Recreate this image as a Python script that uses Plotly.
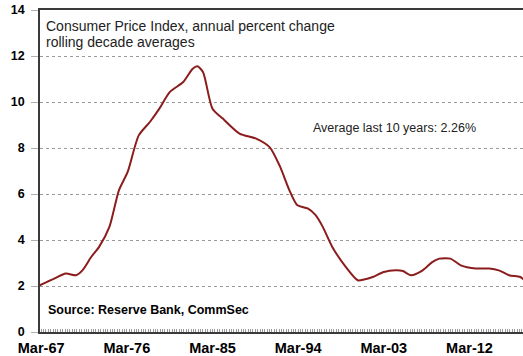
import plotly.graph_objects as go

# Rolling ten-year average of annual CPI change (%), read at irregular dates
dates = [
    "1967-01", "1968-08", "1969-10", "1970-11", "1971-07", "1972-06", "1973-04",
    "1974-05", "1975-05", "1976-04", "1977-06", "1978-08", "1979-08", "1980-09",
    "1982-02", "1983-02", "1983-08", "1984-03", "1985-03", "1986-04", "1988-01",
    "1989-10", "1991-03", "1992-04", "1993-04", "1994-02", "1995-03", "1996-01",
    "1996-10", "1997-10", "1999-03", "2000-06", "2001-02", "2002-01", "2003-03",
    "2004-06", "2005-03", "2006-01", "2007-04", "2008-04", "2009-01", "2010-03",
    "2011-04", "2012-11", "2014-04", "2015-04", "2016-05", "2017-07", "2017-12",
]
cpi_decade_avg = [
    2.03, 2.33, 2.54, 2.47, 2.68, 3.26, 3.70,
    4.57, 6.16, 6.96, 8.55, 9.13, 9.71, 10.43,
    10.87, 11.45, 11.55, 11.30, 9.71, 9.28, 8.63,
    8.41, 8.04, 7.20, 6.16, 5.51, 5.37, 5.08,
    4.57, 3.70, 2.83, 2.25, 2.28, 2.39, 2.61,
    2.68, 2.65, 2.47, 2.68, 3.04, 3.19, 3.19,
    2.90, 2.76, 2.76, 2.68, 2.47, 2.39, 2.26,
]

x_tick_dates = ["1967-03-01", "1976-03-01", "1985-03-01", "1994-03-01", "2003-03-01", "2012-03-01"]
x_tick_labels = ["Mar-67", "Mar-76", "Mar-85", "Mar-94", "Mar-03", "Mar-12"]
y_ticks = [0, 2, 4, 6, 8, 10, 12, 14]

FONT = "Liberation Sans, Arial, sans-serif"

fig = go.Figure()
fig.add_trace(go.Scatter(
    x=dates, y=cpi_decade_avg, mode="lines",
    line=dict(color="#8b1d1d", width=2, shape="spline", smoothing=0.7),
    hoverinfo="skip", showlegend=False,
))

fig.update_layout(
    width=523, height=356,
    margin=dict(l=40, r=0, t=10, b=24),
    paper_bgcolor="white", plot_bgcolor="white",
    font=dict(family=FONT, color="black"),
    xaxis=dict(
        type="date",
        range=["1967-01-15", "2017-10-15"],
        tickmode="array", tickvals=x_tick_dates, ticktext=x_tick_labels,
        tickfont=dict(family=FONT, size=14.5, color="black", weight="bold"),
        ticks="", ticklabelstandoff=2,
        showgrid=False, zeroline=False,
        showline=True, linecolor="#3a3a3a", linewidth=1.5, mirror=True,
        minor=dict(ticks="inside", ticklen=3, tickcolor="#9a9a9a", tickwidth=1,
                   dtick="M3", tick0="1967-03-01", showgrid=False),
    ),
    yaxis=dict(
        range=[0, 14], tickmode="array", tickvals=y_ticks,
        tickfont=dict(family=FONT, size=12.5, color="black", weight="bold"),
        ticks="outside", ticklen=7, tickcolor="#b0b0b0", tickwidth=1,
        ticklabelstandoff=4,
        showgrid=True, gridcolor="#9a9a9a", gridwidth=1, griddash="dot",
        zeroline=False,
        showline=True, linecolor="#3a3a3a", linewidth=1.5,
    ),
    annotations=[
        dict(xref="paper", yref="paper", x=0, y=1, xshift=4, yshift=-6,
             xanchor="left", yanchor="top", showarrow=False,
             text="Consumer Price Index, annual percent change",
             font=dict(family=FONT, size=14, color="#222222")),
        dict(xref="paper", yref="paper", x=0, y=1, xshift=4, yshift=-22,
             xanchor="left", yanchor="top", showarrow=False,
             text="rolling decade averages",
             font=dict(family=FONT, size=14, color="#222222")),
        dict(xref="paper", yref="y", x=0, y=8.85, xshift=271,
             xanchor="left", yanchor="middle", showarrow=False,
             text="Average last 10 years: 2.26%",
             font=dict(family=FONT, size=12.5, color="#222222")),
        dict(xref="paper", yref="y", x=0, y=0.95, xshift=6,
             xanchor="left", yanchor="middle", showarrow=False,
             text="<b>Source: Reserve Bank, CommSec</b>",
             font=dict(family=FONT, size=12.5, color="black")),
    ],
)

fig.write_html("out.html")
